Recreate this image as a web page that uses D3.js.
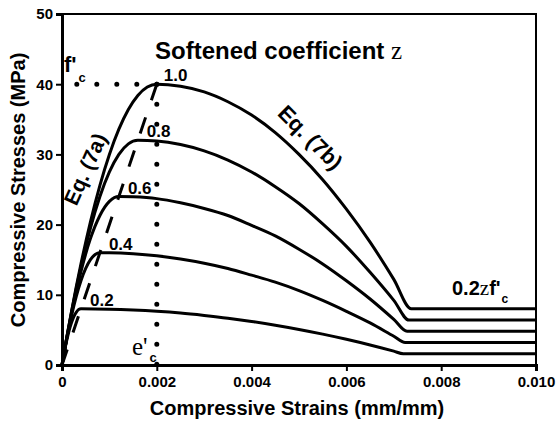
<!DOCTYPE html>
<html>
<head>
<meta charset="utf-8">
<script src="https://cdn.jsdelivr.net/npm/d3@7"></script>
<style>
  body { margin: 0; background: #fff; }
  text { font-family: "Liberation Sans", Arial, sans-serif; font-weight: bold; fill: #000; }
  .serif { font-family: "Liberation Serif", "Times New Roman", serif; font-weight: normal; }
</style>
</head>
<body>
<svg id="viz"></svg>
<script>
// ------------------------------------------------------------
// DATA  (strain mm/mm, stress MPa)

var zetaLabels = ["1.0", "0.8", "0.6", "0.4", "0.2"];

var curve10 = [[0,0],[0.0001,3.9],[0.0002,7.6],[0.0004,14.4],[0.0006,20.4],[0.0008,25.6],[0.001,30],
  [0.0012,33.6],[0.0014,36.4],[0.0016,38.4],[0.0018,39.6],[0.002,40],[0.0025,39.7],[0.003,38.9],
  [0.0035,37.5],[0.004,35.6],[0.0045,33.1],[0.005,30],[0.0055,26.4],[0.006,22.2],[0.0065,17.5],
  [0.007,12.2],[0.00737,8],[0.01,8]];

var curve08 = [[0,0],[0.0001,3.9],[0.0002,7.5],[0.0004,14],[0.0006,19.5],[0.0008,24],[0.001,27.5],
  [0.0012,30],[0.0014,31.5],[0.0016,32],[0.002,31.9],[0.0025,31.4],[0.003,30.5],[0.0035,29.2],
  [0.004,27.5],[0.0045,25.4],[0.005,23],[0.0055,20.1],[0.006,16.9],[0.0065,13.2],[0.007,9.2],
  [0.00732,6.4],[0.01,6.4]];

var curve06 = [[0,0],[0.0001,3.8],[0.0002,7.3],[0.0004,13.3],[0.0006,18],[0.0008,21.3],[0.001,23.3],
  [0.0012,24],[0.0015,23.95],[0.002,23.7],[0.0025,23.1],[0.003,22.3],[0.0035,21.3],[0.004,19.9],
  [0.0045,18.4],[0.005,16.5],[0.0055,14.4],[0.006,12],[0.0065,9.4],[0.007,6.5],[0.00728,4.8],[0.01,4.8]];

var curve04 = [[0,0],[0.0001,3.75],[0.0002,7],[0.0003,9.75],[0.0004,12],[0.0005,13.75],[0.0006,15],
  [0.0007,15.75],[0.0008,16],[0.001,15.99],[0.0015,15.85],[0.002,15.56],[0.0025,15.1],[0.003,14.5],
  [0.0035,13.75],[0.004,12.8],[0.0045,11.8],[0.005,10.6],[0.0055,9.2],[0.006,7.65],[0.0065,6],
  [0.007,4.1],[0.00724,3.2],[0.01,3.2]];

var curve02 = [[0,0],[0.00005,1.9],[0.0001,3.5],[0.00015,4.9],[0.0002,6],[0.00025,6.9],[0.0003,7.5],
  [0.00035,7.9],[0.0004,8],[0.001,7.95],[0.0015,7.83],[0.002,7.65],[0.0025,7.4],[0.003,7.06],
  [0.0035,6.67],[0.004,6.2],[0.0045,5.67],[0.005,5.07],[0.0055,4.4],[0.006,3.66],[0.0065,2.85],
  [0.007,1.97],[0.0072,1.6],[0.01,1.6]];

var curves = [curve10, curve08, curve06, curve04, curve02];

// peak line through (zeta*e0, zeta*f'c), drawn from the top down
var peakLine = [[0.002,40],[0,0]];
// f'c and e'c guides, drawn out from the corner
var fcGuide = [[0.002,40],[0.00015,40]];
var ecGuide = [[0.002,40],[0.002,0]];

var xTicks = [0, 0.002, 0.004, 0.006, 0.008, 0.010];
var xTickLabels = ["0", "0.002", "0.004", "0.006", "0.008", "0.010"];
var yTicks = [0, 10, 20, 30, 40, 50];

// ------------------------------------------------------------
// SETUP

var w = 560, h = 423;
var m = {left: 62, right: 24, top: 14, bottom: 58};
var viz = d3.select("#viz").attr("width", w).attr("height", h);

var x = d3.scaleLinear().domain([0, 0.01]).range([m.left, w - m.right]);
var y = d3.scaleLinear().domain([0, 50]).range([h - m.bottom, m.top]);

// frame (top and right)
viz.append("path")
  .attr("d", "M" + x(0) + "," + y(50) + "H" + x(0.01) + "V" + y(0))
  .attr("fill", "none").attr("stroke", "#000").attr("stroke-width", 2);

// axes
var xAxis = viz.append("g")
  .attr("transform", "translate(0," + y(0) + ")")
  .call(d3.axisBottom(x).tickValues(xTicks).tickFormat(function(d, i) { return xTickLabels[i]; }).tickSizeOuter(0).tickSize(6).tickPadding(5));
var yAxis = viz.append("g")
  .attr("transform", "translate(" + x(0) + ",0)")
  .call(d3.axisLeft(y).tickValues(yTicks).tickSizeOuter(0).tickSize(6).tickPadding(3));

[xAxis, yAxis].forEach(function(g) {
  g.select(".domain").attr("stroke-width", 3);
  g.selectAll(".tick line").attr("stroke-width", 2);
  g.selectAll(".tick text").style("font-family", "Liberation Sans, Arial, sans-serif")
    .style("font-weight", "bold").style("font-size", "15px").attr("fill", "#000");
});

// axis titles
viz.append("text")
  .attr("x", (x(0) + x(0.01)) / 2 - 2).attr("y", 415)
  .attr("text-anchor", "middle").style("font-size", "20px")
  .text("Compressive Strains (mm/mm)");
viz.append("text")
  .attr("transform", "translate(25,190) rotate(-90)")
  .attr("text-anchor", "middle").style("font-size", "20px")
  .text("Compressive Stresses (MPa)");

// ------------------------------------------------------------
// CURVES

var line = d3.line().x(function(d) { return x(d[0]); }).y(function(d) { return y(d[1]); })
  .curve(d3.curveMonotoneX);

viz.selectAll("path.curve")
  .data(curves)
  .enter()
  .append("path")
  .attr("class", "curve")
  .attr("d", line)
  .attr("fill", "none")
  .attr("stroke", "#000")
  .attr("stroke-width", 3);

var straight = d3.line().x(function(d) { return x(d[0]); }).y(function(d) { return y(d[1]); });

// dashed peak line
viz.append("path")
  .attr("d", straight(peakLine))
  .attr("fill", "none").attr("stroke", "#000").attr("stroke-width", 3)
  .attr("stroke-dasharray", "17,18");

// dotted guides
[fcGuide, ecGuide].forEach(function(g) {
  viz.append("path")
    .attr("d", straight(g))
    .attr("fill", "none").attr("stroke", "#000").attr("stroke-width", 5)
    .attr("stroke-linecap", "round").attr("stroke-dasharray", "0,20");
});

// zeta labels sitting on each plateau
function peakOf(c) {
  return c.reduce(function(a, b) { return b[1] > a[1] ? b : a; });
}
viz.selectAll("text.zeta")
  .data(zetaLabels)
  .enter()
  .append("text")
  .attr("class", "zeta")
  .attr("x", function(d, i) { return x(peakOf(curves[i])[0]) + (i === 0 ? 7 : 9); })
  .attr("y", function(d, i) { return y(peakOf(curves[i])[1]) - 3; })
  .style("font-size", "17px")
  .text(function(d) { return d; });

// ------------------------------------------------------------
// ANNOTATIONS

var title = viz.append("text").attr("x", 155).attr("y", 59).style("font-size", "24px");
title.append("tspan").text("Softened coefficient ");
title.append("tspan").attr("class", "serif").style("font-size", "25px").text("z");

viz.append("text")
  .attr("transform", "translate(92,172) rotate(-66)")
  .attr("text-anchor", "middle").style("font-size", "21px")
  .text("Eq. (7a)");
viz.append("text")
  .attr("transform", "translate(305,143) rotate(45)")
  .attr("text-anchor", "middle").style("font-size", "22px")
  .text("Eq. (7b)");

var fc = viz.append("text").attr("x", 64).attr("y", 72).style("font-size", "22px");
fc.append("tspan").text("f'");
fc.append("tspan").attr("dx", 2).attr("dy", 10).style("font-size", "13px").text("c");

var ec = viz.append("text").attr("x", 132).attr("y", 355);
ec.append("tspan").attr("class", "serif").style("font-size", "25px").text("e'");
ec.append("tspan").attr("dx", 2).attr("dy", 7).style("font-size", "13px").text("c");

var rf = viz.append("text").attr("x", 452).attr("y", 295).style("font-size", "20px");
rf.append("tspan").text("0.2");
rf.append("tspan").attr("class", "serif").style("font-size", "21px").text("z");
rf.append("tspan").text("f'");
rf.append("tspan").attr("dx", 1).attr("dy", 8).style("font-size", "12px").text("c");
</script>
</body>
</html>
